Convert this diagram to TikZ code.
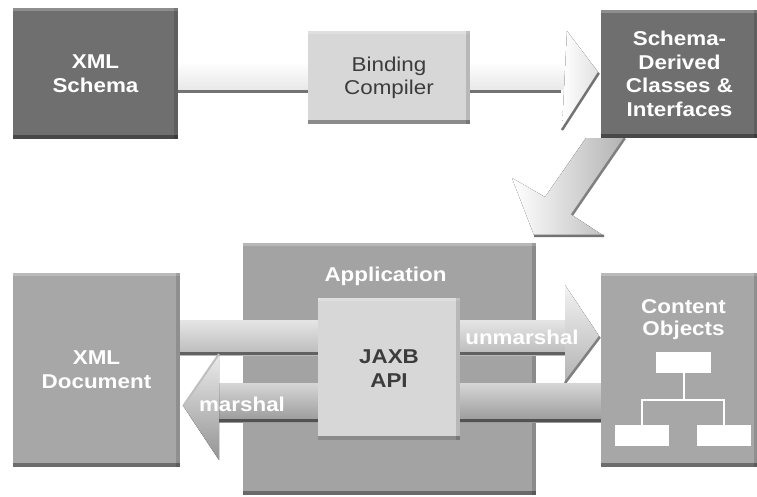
\documentclass[tikz,border=0pt]{standalone}
\usepackage{fontspec}
\newfontfamily\lblfont[FakeStretch=1.12]{Liberation Sans}
\usetikzlibrary{calc}
\pgfdeclarelayer{bg}
\pgfdeclarelayer{mid}
\pgfsetlayers{bg,mid,main}

\definecolor{darkbox}{HTML}{6F6F6F}
\definecolor{midbox}{HTML}{A7A7A7}
\definecolor{appbox}{HTML}{A3A3A3}
\definecolor{lightbox}{HTML}{D7D7D7}
\definecolor{ink}{HTML}{3C3C3C}

\tikzset{
  bevel/.style={path picture={
      \fill[white, opacity=.22] (path picture bounding box.north west) rectangle ([yshift=-3pt]path picture bounding box.north east);
      \fill[black, opacity=.14] ([xshift=-4pt]path picture bounding box.north east) rectangle (path picture bounding box.south east);
      \fill[black, opacity=.35] (path picture bounding box.south west) rectangle ([yshift=4pt]path picture bounding box.south east);
  }},
  panel/.style={bevel, inner sep=0pt, align=center, text=white,
    font=\lblfont\bfseries\fontsize{20}{24}\selectfont},
  lightpanel/.style={panel, fill=lightbox, text=ink},
  caption/.style={inner sep=0pt, text=white, font=\lblfont\bfseries\fontsize{20}{24}\selectfont},
  objbox/.style={fill=white, draw=none, minimum width=55pt, minimum height=21pt, inner sep=0pt},
  treeline/.style={draw=white, line width=2pt},
  edge/.style={line width=3pt, line cap=butt},
}

\begin{document}
\begin{tikzpicture}[x=1pt, y=-1pt]
  \useasboundingbox (0,0) rectangle (757,497);

  % ---------- boxes ----------
  \begin{pgfonlayer}{bg}
    \fill[white] (0,0) rectangle (757,497);
    \node[panel, fill=appbox, minimum width=293pt, minimum height=252pt] (app) at (389.5,369) {};
  \end{pgfonlayer}
  \node[caption] (applabel) at ($(app.north)+(-4,34)$) {Application};

  \node[panel, fill=darkbox, minimum width=165pt, minimum height=131pt] (xs) at (95.5,73.5) {XML\\Schema};
  \node[lightpanel, font=\lblfont\fontsize{20}{23}\selectfont, minimum width=162pt, minimum height=93pt] (bc) at (389,77.5) {Binding\\Compiler};
  \node[panel, fill=darkbox, minimum width=157pt, minimum height=128pt] (sd) at (679.5,74)
    {Schema-\\[-0.5pt]Derived\\[-0.5pt]Classes \&\\[-0.5pt]Interfaces};

  \node[panel, fill=midbox, minimum width=167pt, minimum height=194pt] (xd) at (96.5,370) {XML\\Document};
  \node[lightpanel, minimum width=142pt, minimum height=142pt] (jx) at (389,369) {JAXB\\API};
  \node[panel, fill=midbox, minimum width=157pt, minimum height=194pt] (co) at (679.5,370) {};
  \node[caption, align=center, font=\lblfont\bfseries\fontsize{20}{22}\selectfont] (colabel) at ($(co.north)+(4,47)$) {Content\\Objects};

  % object tree inside Content Objects
  \node[objbox] (otop) at (683.5,362.5) {};
  \node[objbox, minimum width=54pt] (oleft) at (642,435.5) {};
  \node[objbox, minimum width=54pt] (oright) at (724,435.5) {};
  \coordinate (ojoin) at ($(otop.south)+(0,27)$);
  \draw[treeline] (otop.south) -- (ojoin);
  \draw[treeline] (oleft.north) |- (ojoin) -| (oright.north);

  % ---------- arrows ----------
  \begin{pgfonlayer}{mid}
    % compile path: XML Schema -> Binding Compiler -> Schema-Derived
    \coordinate (ta0) at ($(xs.east)+(0,-12)$);
    \coordinate (ta1) at (567,90);
    \coordinate (tahi) at (567,31);
    \coordinate (talo) at (562,130);
    \coordinate (tatip) at ($(sd.west)+(-2,-1)$);
    \fill[top color=white, bottom color=black!9] (ta0) rectangle (ta1);
    \fill[left color=white, right color=black!12] (tahi) -- (tatip) -- (talo) -- cycle;
    \draw[edge, black!55] ($(xs.east)+(0,18)$) -- (561,91.5);
    \draw[edge, black!55, line width=2.5pt] (tatip) -- (talo);

    % generated classes feed the application
    \coordinate (dS1) at ($(sd.south west)+(-15,0)$);
    \coordinate (dS2) at ($(sd.south west)+(24,0)$);
    \coordinate (dL) at (545,197);
    \coordinate (dA) at (512,178);
    \coordinate (dT) at ($(app.north east)+(-2,-7)$);
    \coordinate (dB) at (604,236);
    \coordinate (dR) at (572,215);
    \fill[left color=white, right color=black!30] (dS1) -- (dL) -- (dA) -- (dT) -- (dB) -- (dR) -- (dS2) -- cycle;
    \draw[edge, black!50, line width=2.5pt] (dR) -- (dS2);
    \draw[edge, black!55, line width=2.5pt] (dT) -- (dB);

    % unmarshal: XML Document -> Content Objects
    \coordinate (u0) at ($(xd.east)+(0,-50)$);
    \coordinate (u1) at (565,355);
    \coordinate (uhi) at (565,285);
    \coordinate (ulo) at (565,383);
    \coordinate (utip) at ($(co.west)+(-1,-33)$);
    \fill[top color=black!10, bottom color=black!27] (u0) rectangle (u1);
    \draw[edge, black!62] ($(xd.east)+(0,-17)$) -- (565,353);
    \fill[top color=black!5, bottom color=black!30] (uhi) -- (utip) -- (ulo) -- cycle;
    \draw[edge, black!50, line width=2.5pt] (utip) -- (ulo);
    \node[caption] (ulabel) at (522,337) {unmarshal};

    % marshal: Content Objects -> XML Document
    \coordinate (m0) at (219,383);
    \coordinate (m1) at ($(co.west)+(0,52)$);
    \coordinate (mhi) at (219,354);
    \coordinate (mlo) at (219,460);
    \coordinate (mtip) at ($(xd.east)+(3,36)$);
    \fill[top color=black!16, bottom color=black!40] (m0) rectangle (m1);
    \draw[edge, black!68] (219,420.5) -- ($(co.west)+(0,50.5)$);
    \fill[top color=black!8, bottom color=black!42] (mhi) -- (mtip) -- (mlo) -- cycle;
    \draw[edge, black!25, line width=2pt] (mhi) -- (mtip);
    \node[caption] (mlabel) at (242,404) {marshal};
  \end{pgfonlayer}
\end{tikzpicture}
\end{document}
